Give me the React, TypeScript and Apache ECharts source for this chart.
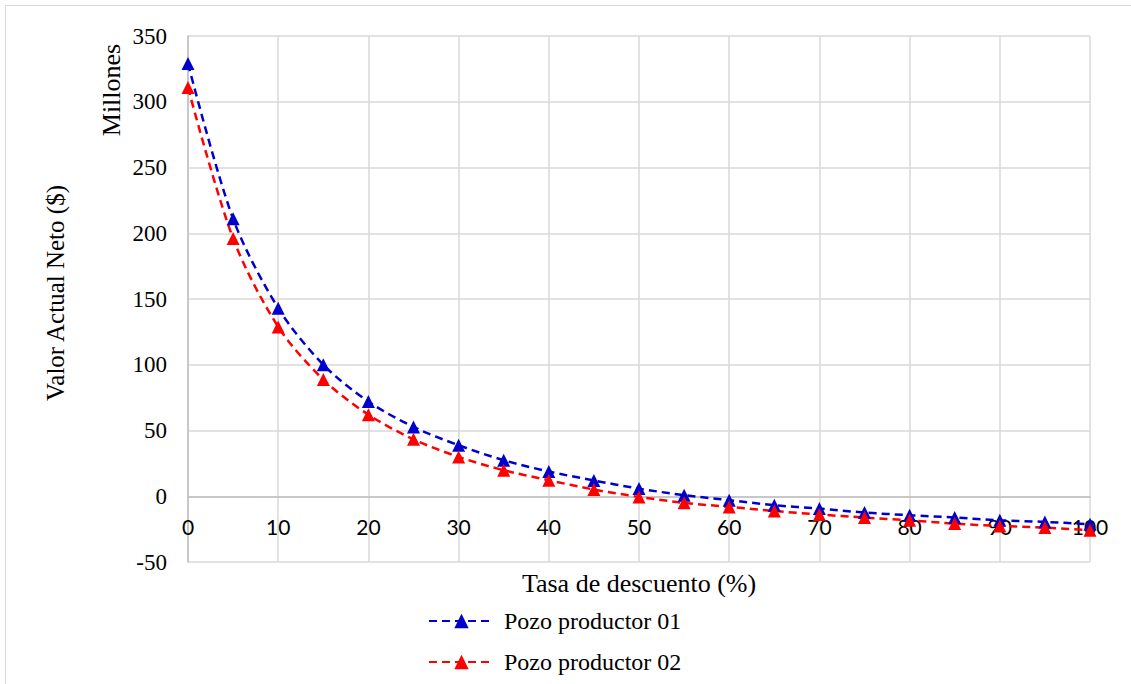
import React, { useEffect, useRef } from "react";
import * as echarts from "echarts";

const rates = [0, 5, 10, 15, 20, 25, 30, 35, 40, 45, 50, 55, 60, 65, 70, 75, 80, 85, 90, 95, 100];
const pozo01 = [329, 211, 143, 100, 72, 52.7, 38.8, 27.4, 18.8, 12, 5.8, 0.8, -3, -6.8, -9.4, -12.4, -14.4, -16.2, -18.3, -19.5, -21.3];
const pozo02 = [310.8, 196, 128.8, 88.7, 62, 43.3, 29.9, 19.8, 12.2, 5.1, -0.5, -5, -8.1, -11.2, -13.9, -16.2, -18.3, -20.8, -22.6, -23.8, -25.9];
const seriesNames = ["Pozo productor 01", "Pozo productor 02"];
const xTitle = "Tasa de descuento (%)";
const yTitle = "Valor Actual Neto ($)";
const yUnit = "Millones";

const SERIF = "Liberation Serif";
const SANS = "Lato";

const Y_MIN = -50;
const Y_MAX = 350;
const GRID_TOP = 36;
const GRID_BOTTOM = 122;
const CHART_H = 684;

export default function App() {
  const ref = useRef<HTMLDivElement>(null);
  useEffect(() => {
    if (!ref.current) return;
    const chart = echarts.init(ref.current, null, { renderer: "svg" });
    const plotH = CHART_H - GRID_TOP - GRID_BOTTOM;
    const zeroOffset = -((0 - Y_MIN) / (Y_MAX - Y_MIN)) * plotH;
    const mk = (name: string, vals: number[], color: string) => ({
      name,
      type: "line",
      data: rates.map((r, i) => [r, vals[i]]),
      smooth: 0.3,
      symbol: "triangle",
      symbolSize: 13,
      itemStyle: { color },
      lineStyle: { color, width: 2.5, type: [8, 5] },
      z: 3,
    });
    chart.setOption({
      animation: false,
      backgroundColor: "#ffffff",
      grid: { left: 188, right: 41, top: GRID_TOP, bottom: GRID_BOTTOM, containLabel: false },
      xAxis: {
        type: "value",
        min: 0,
        max: 100,
        interval: 10,
        offset: zeroOffset,
        axisLine: { show: true, onZero: false, lineStyle: { color: "#bfbfbf", width: 1.5 } },
        axisTick: { show: false },
        axisLabel: { fontFamily: SANS, fontSize: 21, color: "#000", margin: 20 },
        splitLine: { show: true, lineStyle: { color: "#d9d9d9", width: 1.5 } },
      },
      yAxis: {
        type: "value",
        min: Y_MIN,
        max: Y_MAX,
        interval: 50,
        axisLine: { show: true, onZero: false, lineStyle: { color: "#bfbfbf", width: 1.5 } },
        axisTick: { show: false },
        axisLabel: { fontFamily: SERIF, fontSize: 23, color: "#000", margin: 21 },
        splitLine: { show: true, lineStyle: { color: "#d9d9d9", width: 1.5 } },
      },
      legend: {
        orient: "vertical",
        left: 428,
        top: 609,
        padding: 0,
        itemWidth: 65,
        itemHeight: 18,
        itemGap: 17,
        textStyle: { fontFamily: SERIF, fontSize: 24, color: "#000", padding: [0, 0, 0, 5] },
        data: seriesNames,
      },
      graphic: [
        {
          type: "rect",
          shape: { x: 5.5, y: 5.5, width: 1300, height: 900 },
          style: { fill: "none", stroke: "#d9d9d9", lineWidth: 1 },
          silent: true,
          z: -10,
        },
        {
          type: "text",
          x: 639,
          y: 583,
          style: { text: xTitle, font: `26px ${SERIF}`, fill: "#000", align: "center", verticalAlign: "middle" },
        },
        {
          type: "text",
          x: 55,
          y: 293,
          rotation: Math.PI / 2,
          style: { text: yTitle, font: `25px ${SERIF}`, fill: "#000", align: "center", verticalAlign: "middle" },
        },
        {
          type: "text",
          x: 111,
          y: 90,
          rotation: Math.PI / 2,
          style: { text: yUnit, font: `26px ${SERIF}`, fill: "#000", align: "center", verticalAlign: "middle" },
        },
      ],
      series: [mk(seriesNames[0], pozo01, "#0000cc"), mk(seriesNames[1], pozo02, "#ff0000")],
    });
    return () => chart.dispose();
  }, []);
  return (
    <div
      ref={ref}
      style={{ position: "absolute", left: 0, top: 0, width: 1131, height: 684 }}
    />
  );
}
